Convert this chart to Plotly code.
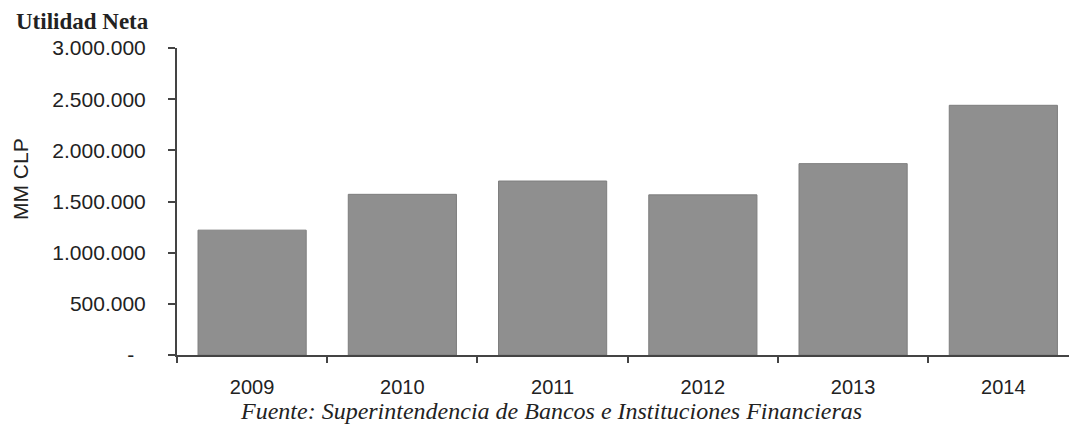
import plotly.graph_objects as go

# Utilidad neta del sistema bancario (MM CLP)
years = ["2009", "2010", "2011", "2012", "2013", "2014"]
net_income = [1220000, 1570000, 1700000, 1565000, 1870000, 2440000]

y_tick_vals = [0, 500000, 1000000, 1500000, 2000000, 2500000, 3000000]
y_tick_text = ["-\u00a0\u00a0", "500.000", "1.000.000", "1.500.000",
               "2.000.000", "2.500.000", "3.000.000"]

title_text = "<b>Utilidad Neta</b>"
y_title = "MM CLP"
source_text = "<i>Fuente: Superintendencia de Bancos e Instituciones Financieras</i>"

sans = "Liberation Sans, Arial, sans-serif"
serif = "Liberation Serif, Times New Roman, serif"
axis_color = "#444444"
text_color = "#222222"

plot_left = 177
plot_width = 892

fig = go.Figure(
    go.Bar(
        x=years,
        y=net_income,
        width=0.72,
        marker=dict(color="#8f8f8f", line=dict(color="#7e7e7e", width=1)),
    )
)

fig.update_layout(
    width=1069,
    height=430,
    margin=dict(l=plot_left, r=0, t=48, b=75),
    paper_bgcolor="white",
    plot_bgcolor="white",
    showlegend=False,
    font=dict(family=sans, color=text_color),
)

fig.update_xaxes(
    type="category",
    range=[-0.5, 5.437],
    showline=True,
    linecolor=axis_color,
    linewidth=2,
    ticks="outside",
    tickson="boundaries",
    ticklen=6,
    tickwidth=2,
    tickcolor=axis_color,
    tickfont=dict(family=sans, size=20, color=text_color),
    ticklabelstandoff=13,
    showgrid=False,
    zeroline=False,
)

fig.update_yaxes(
    range=[0, 3000000],
    tickvals=y_tick_vals,
    ticktext=y_tick_text,
    showline=True,
    linecolor=axis_color,
    linewidth=2,
    ticks="outside",
    ticklen=7,
    tickwidth=2,
    tickcolor=axis_color,
    tickfont=dict(family=sans, size=21, color=text_color),
    ticklabelstandoff=18,
    showgrid=False,
    zeroline=False,
)

# Chart title, axis title and source note
fig.add_annotation(
    text=title_text, xref="paper", yref="paper", x=(14 - plot_left) / plot_width, y=1.0,
    xanchor="left", yanchor="bottom", yshift=12, showarrow=False,
    font=dict(family=serif, size=23, color=text_color),
)
fig.add_annotation(
    text=y_title, xref="paper", yref="paper", x=(20 - plot_left) / plot_width, y=(355 - 179) / 307,
    xanchor="center", yanchor="middle", textangle=-90, showarrow=False,
    font=dict(family=sans, size=21, color=text_color),
)
fig.add_annotation(
    text=source_text, xref="paper", yref="paper", x=(551 - plot_left) / plot_width, y=0,
    xanchor="center", yanchor="middle", yshift=-56, showarrow=False,
    font=dict(family=serif, size=24, color=text_color),
)

fig.write_html("out.html")
